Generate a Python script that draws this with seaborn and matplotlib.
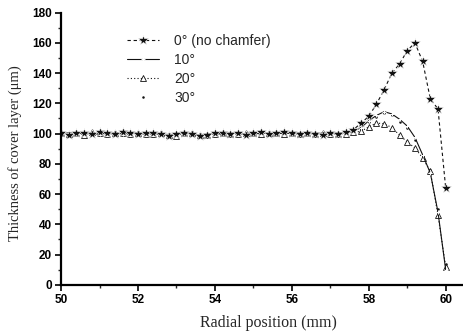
import matplotlib
matplotlib.use("Agg")
import matplotlib.pyplot as plt
import seaborn as sns
from matplotlib.ticker import MultipleLocator

sns.set_theme(style="ticks")
plt.rcParams["font.family"] = ["Liberation Sans", "DejaVu Sans"]

# Radial position (mm)
x = [50.0, 50.2, 50.4, 50.6, 50.8, 51.0, 51.2, 51.4, 51.6, 51.8,
     52.0, 52.2, 52.4, 52.6, 52.8, 53.0, 53.2, 53.4, 53.6, 53.8,
     54.0, 54.2, 54.4, 54.6, 54.8, 55.0, 55.2, 55.4, 55.6, 55.8,
     56.0, 56.2, 56.4, 56.6, 56.8, 57.0, 57.2, 57.4, 57.6, 57.8,
     58.0, 58.2, 58.4, 58.6, 58.8, 59.0, 59.2, 59.4, 59.6, 59.8,
     60.0]

y0 = [100.2, 99.4, 100.6, 100.1, 99.7, 100.8, 100.3, 99.6, 100.9, 100.4,
      99.8, 100.7, 100.2, 99.5, 98.4, 99.9, 100.6, 99.7, 98.2, 99.4,
      100.5, 100.1, 99.6, 100.4, 99.2, 100.3, 100.8, 99.8, 100.2, 100.9,
      100.1, 99.7, 100.5, 100.0, 99.4, 100.3, 99.8, 101.2, 102.6, 107.0,
      111.4, 119.6, 129.0, 140.0, 146.0, 154.9, 160.0, 147.8, 123.0, 116.3,
      64.0]

y10 = [99.8, 100.5, 99.9, 100.7, 100.2, 99.5, 100.6, 100.1, 99.9, 100.8,
       100.3, 99.6, 100.5, 99.2, 98.9, 100.4, 99.9, 100.2, 98.8, 99.9,
       100.2, 99.5, 100.7, 99.8, 100.1, 99.6, 100.4, 100.2, 99.7, 100.5,
       99.9, 100.6, 99.8, 100.4, 100.1, 99.7, 100.6, 100.5, 101.5, 104.0,
       108.5, 112.0, 114.5, 113.0, 109.5, 105.0, 97.5, 86.0, 74.0, 48.0,
       10.0]

y20 = [100.5, 99.7, 100.3, 99.4, 100.9, 100.2, 99.8, 100.7, 100.1, 99.5,
       100.6, 100.0, 99.7, 100.3, 99.3, 98.7, 100.2, 100.5, 99.1, 99.0,
       99.8, 100.6, 100.0, 99.5, 100.7, 100.1, 99.6, 100.5, 100.3, 99.9,
       100.5, 99.8, 100.2, 99.6, 100.4, 100.0, 99.5, 100.0, 100.8, 101.5,
       104.5, 107.0, 106.5, 104.0, 99.0, 94.5, 90.5, 84.0, 75.0, 46.0,
       12.0]

y30 = [100.0, 100.4, 99.6, 100.3, 99.9, 100.6, 99.7, 100.4, 100.6, 99.8,
       100.1, 100.5, 99.9, 99.8, 98.6, 100.1, 100.3, 99.5, 98.6, 99.7,
       100.4, 99.8, 100.3, 100.1, 99.5, 100.5, 100.0, 99.6, 100.6, 100.2,
       99.8, 100.2, 100.3, 99.7, 100.2, 100.4, 100.1, 100.3, 101.0, 103.0,
       107.5, 111.0, 113.5, 112.0, 108.0, 103.5, 96.0, 85.0, 76.0, 50.0,
       14.0]

labels = ["0° (no chamfer)", "10°", "20°", "30°"]
x_ticks = [50, 52, 54, 56, 58, 60]
y_ticks = [0, 20, 40, 60, 80, 100, 120, 140, 160, 180]

fig = plt.figure(figsize=(4.63, 3.32), dpi=100)
ax = fig.add_axes([0.132, 0.142, 0.868, 0.820])

ink = "#111111"
sns.lineplot(x=x, y=y30, ax=ax, errorbar=None, color=ink, linestyle="none",
             marker="o", markersize=1.8, markeredgewidth=0, label=labels[3])
sns.lineplot(x=x, y=y20, ax=ax, errorbar=None, color=ink, linestyle=(0, (1, 2)),
             linewidth=0.8, marker="^", markersize=4, markerfacecolor="white",
             markeredgecolor=ink, markeredgewidth=0.6, label=labels[2])
sns.lineplot(x=x, y=y10, ax=ax, errorbar=None, color=ink, linestyle="-",
             linewidth=0.8, marker="+", markersize=3.5, markeredgewidth=0.7,
             label=labels[1])
sns.lineplot(x=x, y=y0, ax=ax, errorbar=None, color=ink, linestyle=(0, (3, 2.5)),
             linewidth=0.8, marker="*", markersize=7, markeredgewidth=0.4,
             label=labels[0])

ax.set_xlim(50, 60.45)
ax.set_ylim(0, 180)
ax.set_xticks(x_ticks)
ax.set_yticks(y_ticks)
ax.xaxis.set_minor_locator(MultipleLocator(1))
ax.yaxis.set_minor_locator(MultipleLocator(10))
ax.tick_params(axis="both", which="major", direction="out", length=4.5, width=1.2,
               labelsize=8.5, pad=2, colors="black")
ax.tick_params(axis="both", which="minor", direction="out", length=2.5, width=1.0)
for lab in ax.get_xticklabels() + ax.get_yticklabels():
    lab.set_fontweight("bold")

for side in ["top", "right"]:
    ax.spines[side].set_visible(False)
for side in ["left", "bottom"]:
    ax.spines[side].set_linewidth(1.6)
    ax.spines[side].set_color("black")

ax.set_xlabel("Radial position (mm)", family=["Liberation Serif", "DejaVu Serif"],
              fontsize=11.5, va="center")
ax.set_ylabel("Thickness of cover layer (μm)", family=["Liberation Serif", "DejaVu Serif"],
              fontsize=10.5, va="center")
ax.xaxis.set_label_coords(0.515, -0.14)
ax.yaxis.set_label_coords(-0.114, 0.483)

handles, labs = ax.get_legend_handles_labels()
order = [labs.index(l) for l in labels]
ax.legend([handles[i] for i in order], [labs[i] for i in order],
          loc="upper left", bbox_to_anchor=(0.15, 0.942), frameon=False,
          fontsize=10, handlelength=2.3, handletextpad=1.1, labelspacing=0.35,
          borderaxespad=0)

fig.savefig("out.png", dpi=100)
